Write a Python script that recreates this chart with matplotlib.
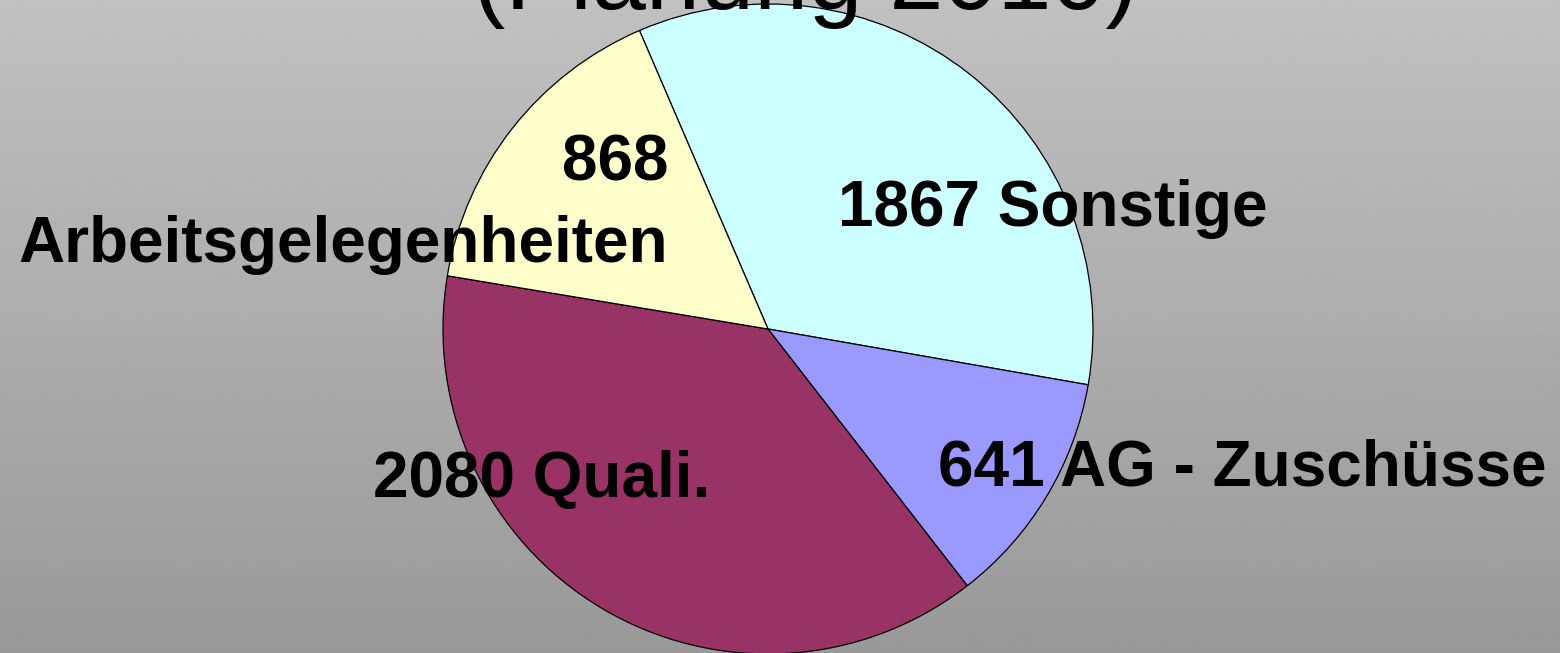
import numpy as np
import matplotlib
matplotlib.use("Agg")
import matplotlib.pyplot as plt

# slice values (clockwise from top-left boundary)
labels = ["1867 Sonstige", "641 AG - Zuschüsse", "2080 Quali.", "868\nArbeitsgelegenheiten"]
values = [1867, 641, 2080, 868]
colors = ["#CCFFFF", "#9999FF", "#993366", "#FFFFCC"]
title = "(Planung 2010)"

W, H = 1560, 653
fig = plt.figure(figsize=(W / 100, H / 100), dpi=100)
ax = fig.add_axes([0, 0, 1, 1])
ax.set_xlim(0, W); ax.set_ylim(0, H)
ax.set_aspect("equal"); ax.axis("off")

# grey vertical gradient background
grad = np.linspace(0.755, 0.600, 256)[:, None]
ax.imshow(grad, cmap="gray", vmin=0, vmax=1, extent=[0, W, 0, H], aspect="auto", zorder=0)

ax.pie(values, colors=colors, startangle=113.3, counterclock=False,
       center=(768, H - 329), radius=325, frame=True,
       wedgeprops=dict(edgecolor="black", linewidth=0.9))
ax.set_xlim(0, W); ax.set_ylim(0, H); ax.axis("off")

font = "Liberation Sans"
lab_kw = dict(fontsize=46, fontweight="bold", family=font, color="black", zorder=5)
# label anchors (pixel coordinates, y from top)
pos = [(838, 226, "left"), (938, 485, "left"), (373, 497, "left"), (668, 262, "right")]
for txt, (x, y, ha) in zip(labels, pos):
    ax.text(x, H - y, txt, ha=ha, va="baseline", multialignment="right" if ha == "right" else "left",
            linespacing=1.45, **lab_kw)

ax.text(805, H - 9, title, ha="center", va="baseline", fontsize=70, family=font, color="black", zorder=5)

fig.savefig("out.png", dpi=100)
